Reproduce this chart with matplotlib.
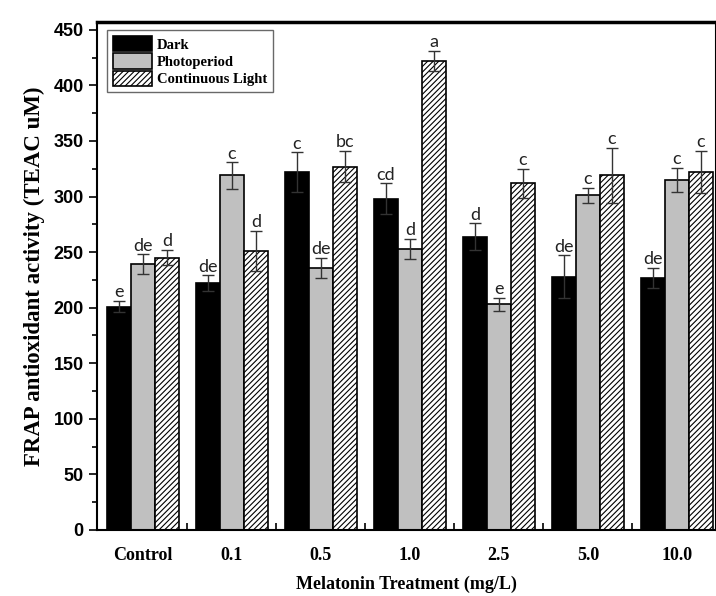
import matplotlib.pyplot as plt
import numpy as np
from matplotlib.ticker import MultipleLocator, FixedLocator

groups = ["Control", "0.1", "0.5", "1.0", "2.5", "5.0", "10.0"]
series = ["Dark", "Photoperiod", "Continuous Light"]

dark = [201, 222, 322, 298, 264, 228, 227]
dark_err = [5, 7, 18, 14, 12, 19, 9]
photo = [239, 319, 236, 253, 203, 301, 315]
photo_err = [9, 12, 9, 9, 6, 7, 11]
light = [245, 251, 327, 422, 312, 319, 322]
light_err = [7, 18, 14, 9, 13, 25, 19]

dark_lbl = ["e", "de", "c", "cd", "d", "de", "de"]
photo_lbl = ["de", "c", "de", "d", "e", "c", "c"]
light_lbl = ["d", "d", "bc", "a", "c", "c", "c"]

serif = "Liberation Serif"
sans = "Liberation Sans"

fig = plt.figure(figsize=(7.16, 5.96), dpi=100)
ax = fig.add_axes([97 / 716, 66 / 596, 619 / 716, 508 / 596])

x = np.arange(len(groups))
w = 0.27
styles = [
    dict(color="black", hatch=None),
    dict(color="#c0c0c0", hatch=None),
    dict(color="white", hatch="//////"),
]
data = [(dark, dark_err, dark_lbl), (photo, photo_err, photo_lbl), (light, light_err, light_lbl)]

plt.rcParams["hatch.linewidth"] = 0.8
for i, (vals, errs, lbls) in enumerate(data):
    pos = x + (i - 1) * w
    ax.bar(pos, vals, w, color=styles[i]["color"], hatch=styles[i]["hatch"],
           edgecolor="black", linewidth=1.2, label=series[i], zorder=2)
    ax.errorbar(pos, vals, yerr=errs, fmt="none", ecolor="#333333",
                elinewidth=1, capsize=4, capthick=1, zorder=3)
    for p, v, e, t in zip(pos, vals, errs, lbls):
        ax.text(p, v + e + 0.5, t, ha="center", va="bottom", fontsize=13,
                family=["Lato", "DejaVu Sans"], color="#222222", zorder=4)

ax.set_xlim(-0.517, 6.44)
ax.set_ylim(0, 457)
ax.yaxis.set_major_locator(MultipleLocator(50))
ax.yaxis.set_minor_locator(MultipleLocator(25))
ax.xaxis.set_major_locator(FixedLocator(x))
ax.xaxis.set_minor_locator(FixedLocator(x[:-1] + 0.5))
ax.tick_params(axis="y", which="major", direction="out", length=6, width=1.2)
ax.tick_params(axis="y", which="minor", direction="out", length=3.5, width=1.2)
ax.tick_params(axis="x", which="major", direction="in", length=5, width=1.2, pad=12)
ax.tick_params(axis="x", which="minor", direction="in", length=5, width=1.2)

ax.set_xticklabels(groups, family=serif, fontweight="bold", fontsize=13)
for lab in ax.get_yticklabels():
    lab.set_family(sans)
    lab.set_fontweight("bold")
    lab.set_fontsize(13)

for s in ["left", "bottom", "right"]:
    ax.spines[s].set_linewidth(1.5)
ax.spines["top"].set_linewidth(2.5)

ax.set_ylabel("FRAP antioxidant activity (TEAC uM)", family=serif,
              fontweight="bold", fontsize=16.5, labelpad=6)
ax.set_xlabel("Melatonin Treatment (mg/L)", family=serif,
              fontweight="bold", fontsize=13, labelpad=9)

leg = ax.legend(loc="upper left", bbox_to_anchor=(0.016, 0.984),
                prop=dict(family=serif, weight="bold", size=10.5),
                frameon=True, fancybox=False, edgecolor="#444444",
                handlelength=2.7, handleheight=1.25, handletextpad=0.35,
                labelspacing=0.12, borderpad=0.4, borderaxespad=0)
leg.get_frame().set_linewidth(1)

fig.savefig("out.png", dpi=100, facecolor="white")
